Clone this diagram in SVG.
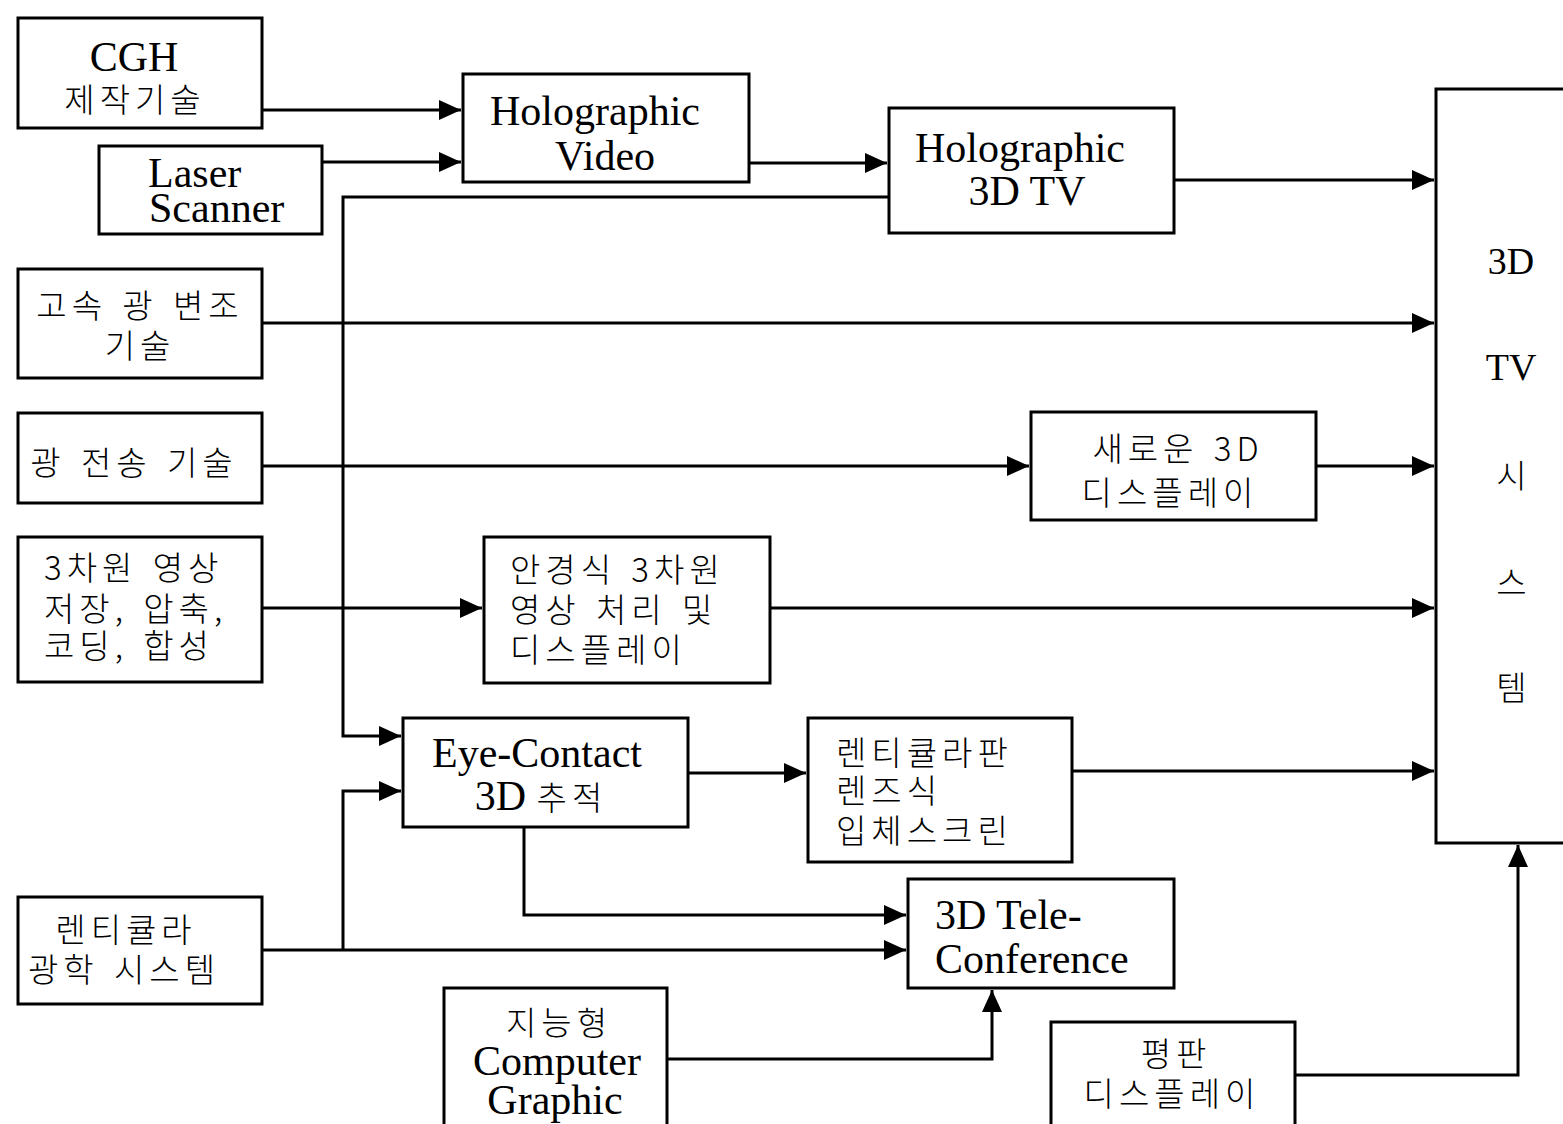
<svg xmlns="http://www.w3.org/2000/svg" width="1563" height="1124" viewBox="0 0 1563 1124">
<style>
.box{fill:#fff;stroke:#000;stroke-width:3}
.en{font-family:"Liberation Serif","DejaVu Serif",serif;font-size:42px;fill:#000}
.ko{font-family:"Noto Sans CJK KR","Noto Sans",sans-serif;font-size:33px;font-weight:300;fill:#000;letter-spacing:5px;word-spacing:3px}
.c{text-anchor:middle}
.ln{fill:none;stroke:#000;stroke-width:3}
</style>
<defs>
<marker id="ah" markerUnits="userSpaceOnUse" markerWidth="24" markerHeight="22" refX="22" refY="10" orient="auto">
<path d="M0,0 L22,10 L0,20 Z" fill="#000"/>
</marker>
</defs>
<rect width="1563" height="1124" fill="#fff"/>

<g id="connectors">
<path class="ln" d="M262,110 H461" marker-end="url(#ah)"/>
<path class="ln" d="M322,162 H461" marker-end="url(#ah)"/>
<path class="ln" d="M749,163 H887" marker-end="url(#ah)"/>
<path class="ln" d="M1174,180 H1434" marker-end="url(#ah)"/>
<path class="ln" d="M889,197 H343 V736 H401" marker-end="url(#ah)"/>
<path class="ln" d="M262,323 H1434" marker-end="url(#ah)"/>
<path class="ln" d="M262,466 H1029" marker-end="url(#ah)"/>
<path class="ln" d="M1316,466 H1434" marker-end="url(#ah)"/>
<path class="ln" d="M262,608 H482" marker-end="url(#ah)"/>
<path class="ln" d="M770,608 H1434" marker-end="url(#ah)"/>
<path class="ln" d="M688,773 H806" marker-end="url(#ah)"/>
<path class="ln" d="M1072,771 H1434" marker-end="url(#ah)"/>
<path class="ln" d="M524,827 V915 H906" marker-end="url(#ah)"/>
<path class="ln" d="M262,950 H906" marker-end="url(#ah)"/>
<path class="ln" d="M343,950 V791 H401" marker-end="url(#ah)"/>
<path class="ln" d="M667,1059 H992 V990" marker-end="url(#ah)"/>
<path class="ln" d="M1295,1075 H1518 V845" marker-end="url(#ah)"/>
</g>

<g id="cgh">
<rect class="box" x="18" y="18" width="244" height="110"/>
<text class="en c" x="134" y="71">CGH</text>
<text class="ko c" x="135" y="112">제작기술</text>
</g>
<g id="laser">
<rect class="box" x="99" y="146" width="223" height="88"/>
<text class="en" x="148" y="187">Laser</text>
<text class="en" x="149" y="222">Scanner</text>
</g>
<g id="holo-video">
<rect class="box" x="463" y="74" width="286" height="108"/>
<text class="en c" x="595" y="125">Holographic</text>
<text class="en c" x="605" y="170">Video</text>
</g>
<g id="holo-3dtv">
<rect class="box" x="889" y="108" width="285" height="125"/>
<text class="en c" x="1020" y="162">Holographic</text>
<text class="en c" x="1027" y="205">3D TV</text>
</g>
<g id="system">
<rect class="box" x="1436" y="89" width="140" height="754"/>
<text class="en c" x="1511" y="274" style="font-size:38px">3D</text>
<text class="en c" x="1511" y="380" style="font-size:38px">TV</text>
<text class="ko c" x="1514" y="488">시</text>
<text class="ko c" x="1514" y="595">스</text>
<text class="ko c" x="1514" y="700">템</text>
</g>
<g id="modulation">
<rect class="box" x="18" y="269" width="244" height="109"/>
<text class="ko c" x="140" y="318">고속 광 변조</text>
<text class="ko c" x="140" y="358">기술</text>
</g>
<g id="transmission">
<rect class="box" x="18" y="413" width="244" height="90"/>
<text class="ko c" x="134" y="475">광 전송 기술</text>
</g>
<g id="storage">
<rect class="box" x="18" y="537" width="244" height="145"/>
<text class="ko" x="44" y="580">3차원 영상</text>
<text class="ko" x="44" y="621">저장, 압축,</text>
<text class="ko" x="44" y="658">코딩, 합성</text>
</g>
<g id="glasses">
<rect class="box" x="484" y="537" width="286" height="146"/>
<text class="ko" x="510" y="582">안경식 3차원</text>
<text class="ko" x="510" y="622">영상 처리 및</text>
<text class="ko" x="510" y="662">디스플레이</text>
</g>
<g id="new-display">
<rect class="box" x="1031" y="412" width="285" height="108"/>
<text class="ko c" x="1178" y="461">새로운 3D</text>
<text class="ko c" x="1170" y="505">디스플레이</text>
</g>
<g id="eye-contact">
<rect class="box" x="403" y="718" width="285" height="109"/>
<text class="en c" x="537" y="767">Eye-Contact</text>
<text class="en c" x="541" y="810">3D <tspan class="ko">추적</tspan></text>
</g>
<g id="lenticular-screen">
<rect class="box" x="808" y="718" width="264" height="144"/>
<text class="ko" x="836" y="765">렌티큘라판</text>
<text class="ko" x="836" y="803">렌즈식</text>
<text class="ko" x="836" y="843">입체스크린</text>
</g>
<g id="teleconference">
<rect class="box" x="908" y="879" width="266" height="109"/>
<text class="en" x="935" y="929">3D Tele-</text>
<text class="en" x="935" y="973">Conference</text>
</g>
<g id="lenticular-optics">
<rect class="box" x="18" y="897" width="244" height="107"/>
<text class="ko c" x="126" y="942">렌티큘라</text>
<text class="ko c" x="124" y="982">광학 시스템</text>
</g>
<g id="intelligent-cg">
<rect class="box" x="444" y="988" width="223" height="150"/>
<text class="ko c" x="559" y="1035">지능형</text>
<text class="en c" x="557" y="1075">Computer</text>
<text class="en c" x="555" y="1114">Graphic</text>
</g>
<g id="flat-display">
<rect class="box" x="1051" y="1022" width="244" height="120"/>
<text class="ko c" x="1176" y="1066">평판</text>
<text class="ko c" x="1172" y="1106">디스플레이</text>
</g>
</svg>
